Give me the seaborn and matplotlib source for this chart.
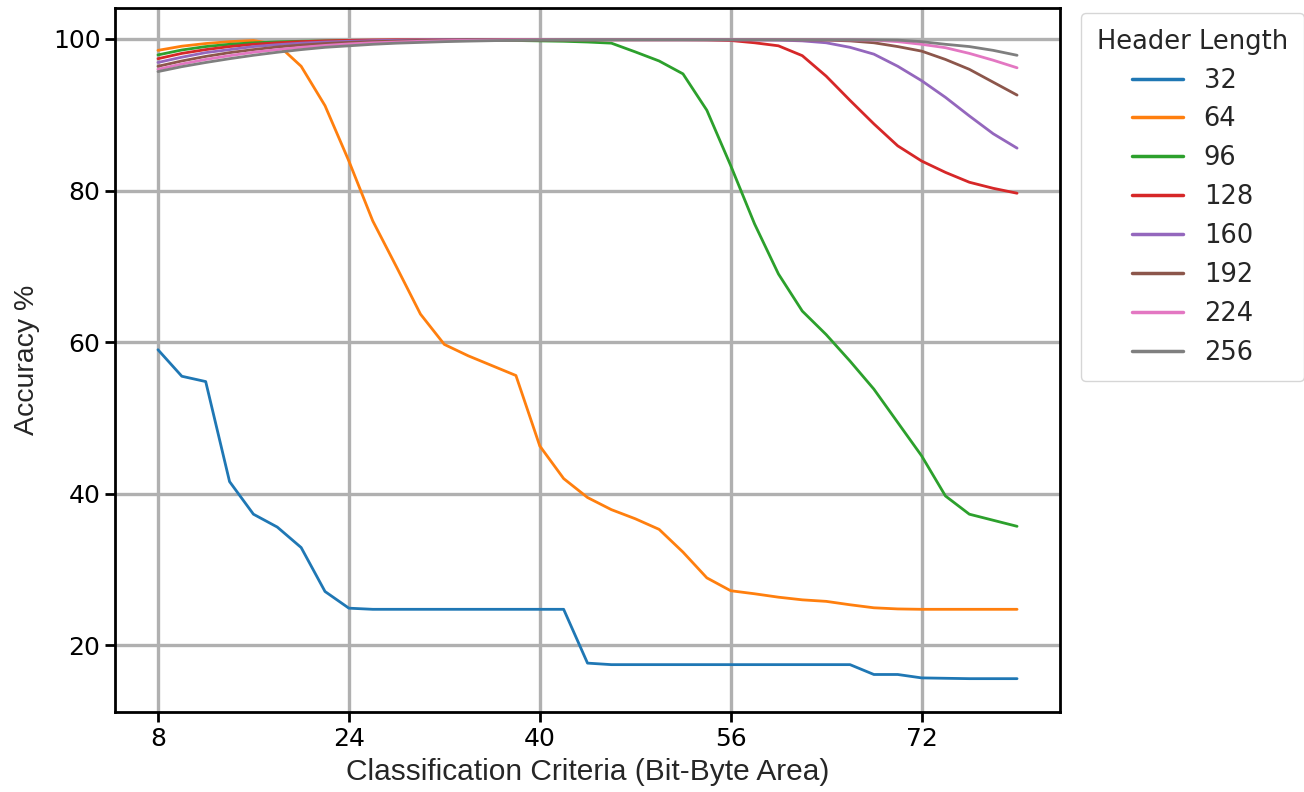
import pandas as pd
import seaborn as sns
import matplotlib
matplotlib.use("Agg")
import matplotlib.pyplot as plt


#critere de classification (zone bit-byte), pas de 2
criteria = list(range(8, 82, 2))

header_lengths = ['32', '64', '96', '128', '160', '192', '224', '256']

#precision (%), une liste par longueur d'en-tete
acc_32 = [59.0, 55.5, 54.8, 41.6, 37.3, 35.6, 32.9, 27.1, 24.9, 24.75, 24.75, 24.75, 24.75,
          24.75, 24.75, 24.75, 24.75, 24.75, 17.65, 17.45, 17.45, 17.45, 17.45, 17.45, 17.45,
          17.45, 17.45, 17.45, 17.45, 17.45, 16.15, 16.15, 15.7, 15.65, 15.6, 15.6, 15.6]
acc_64 = [98.5, 99.05, 99.4, 99.65, 99.8, 99.3, 96.4, 91.2, 83.9, 76.0, 69.9, 63.7, 59.7,
          58.2, 56.9, 55.6, 46.3, 42.0, 39.5, 37.9, 36.7, 35.3, 32.3, 28.9, 27.2, 26.8,
          26.35, 26.0, 25.8, 25.35, 24.95, 24.8, 24.75, 24.75, 24.75, 24.75, 24.75]
acc_96 = [97.9, 98.55, 99.0, 99.3, 99.5, 99.62, 99.7, 99.75, 99.8, 99.8, 99.8, 99.8, 99.8,
          99.8, 99.8, 99.8, 99.75, 99.7, 99.6, 99.45, 98.3, 97.1, 95.4, 90.6, 83.3, 75.6,
          69.0, 64.1, 61.0, 57.5, 53.8, 49.4, 45.0, 39.7, 37.3, 36.5, 35.7]
acc_128 = [97.4, 98.1, 98.6, 99.0, 99.3, 99.5, 99.65, 99.75, 99.82, 99.87, 99.9, 99.9, 99.9,
           99.9, 99.9, 99.9, 99.9, 99.9, 99.9, 99.9, 99.9, 99.9, 99.9, 99.88, 99.8, 99.5,
           99.1, 97.8, 95.1, 91.9, 88.8, 85.9, 83.9, 82.4, 81.1, 80.3, 79.65]
acc_160 = [96.9, 97.6, 98.2, 98.6, 99.0, 99.25, 99.45, 99.6, 99.7, 99.78, 99.83, 99.87, 99.9,
           99.9, 99.9, 99.9, 99.9, 99.9, 99.9, 99.9, 99.9, 99.9, 99.9, 99.9, 99.9, 99.88,
           99.85, 99.75, 99.5, 98.9, 98.0, 96.4, 94.5, 92.3, 89.85, 87.5, 85.6]
acc_192 = [96.4, 97.1, 97.7, 98.2, 98.6, 98.95, 99.2, 99.4, 99.55, 99.65, 99.73, 99.8, 99.85,
           99.88, 99.9, 99.9, 99.9, 99.9, 99.9, 99.9, 99.9, 99.9, 99.9, 99.9, 99.9, 99.9,
           99.9, 99.88, 99.85, 99.75, 99.5, 99.0, 98.4, 97.3, 96.0, 94.3, 92.6]
acc_224 = [96.0, 96.7, 97.3, 97.8, 98.25, 98.6, 98.9, 99.15, 99.35, 99.5, 99.6, 99.7, 99.77,
           99.82, 99.86, 99.89, 99.9, 99.9, 99.9, 99.9, 99.9, 99.9, 99.9, 99.9, 99.9, 99.9,
           99.9, 99.9, 99.9, 99.88, 99.85, 99.65, 99.3, 98.85, 98.1, 97.2, 96.2]
acc_256 = [95.7, 96.35, 96.9, 97.4, 97.85, 98.25, 98.6, 98.9, 99.1, 99.3, 99.45, 99.55, 99.65,
           99.72, 99.78, 99.83, 99.87, 99.9, 99.9, 99.9, 99.9, 99.9, 99.9, 99.9, 99.9, 99.9,
           99.9, 99.9, 99.9, 99.9, 99.88, 99.85, 99.65, 99.3, 99.0, 98.5, 97.85]

series = [acc_32, acc_64, acc_96, acc_128, acc_160, acc_192, acc_224, acc_256]

#mise en forme longue pour seaborn
df = pd.concat([pd.DataFrame({'critere': criteria, 'accuracy': s, 'header': h})
                for h, s in zip(header_lengths, series)], ignore_index=True)

sns.set_style('ticks')
plt.rcParams['font.family'] = ['DejaVu Sans']
plt.rcParams['font.size'] = 18

fig = plt.figure(figsize=(13.04, 7.92), dpi=100)
ax = fig.add_axes([0.0882, 0.101, 0.7247, 0.889])

sns.lineplot(data=df, x='critere', y='accuracy', hue='header', hue_order=header_lengths,
             palette='tab10', linewidth=2.0, ax=ax)

#grille et axes
ax.grid(True, color='#b0b0b0', linewidth=2.4)
ax.set_axisbelow(True)
for sp in ax.spines.values():
    sp.set_color('black')
    sp.set_linewidth(2.0)
ax.tick_params(axis='both', labelsize=18, length=7, width=2, color='black', labelcolor='black')

ax.set_xticks([8, 24, 40, 56, 72])
ax.set_yticks([20, 40, 60, 80, 100])
ax.set_xlim(4.4, 83.6)
ax.set_ylim(11.2, 104.1)

ax.set_xlabel('Classification Criteria (Bit-Byte Area)', fontsize=21.5, family='Liberation Sans',
              labelpad=5)
ax.set_ylabel('Accuracy %', fontsize=20.5, family='Liberation Sans', labelpad=9)

leg = ax.legend(title='Header Length', loc='upper left', bbox_to_anchor=(1.022, 0.993),
                fontsize=18.5, title_fontsize=18.5, borderaxespad=0, borderpad=0.62,
                labelspacing=0.5, handlelength=2.0)
for line in leg.get_lines():
    line.set_linewidth(2.5)

fig.savefig('out.png', dpi=100)
